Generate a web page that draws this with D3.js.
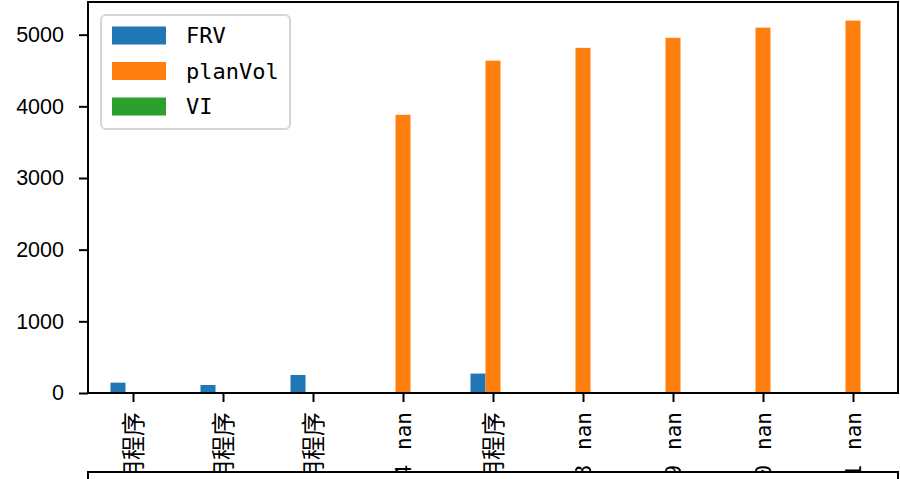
<!DOCTYPE html>
<html>
<head>
<meta charset="utf-8">
<script src="https://cdn.jsdelivr.net/npm/d3@7"></script>
<style>
  html, body { margin: 0; padding: 0; background: #fff; }
  svg { display: block; }
</style>
</head>
<body>
<svg id="chart" width="900" height="479"></svg>
<script>
// ---- data ----
const categories = ["应用程序", "应用程序", "应用程序", "2014 nan", "应用程序", "2018 nan", "2019 nan", "2020 nan", "2021 nan"];
const seriesNames = ["FRV", "planVol", "VI"];
const FRV     = [144, 112, 251, 0, 271, 0, 0, 0, 0];
const planVol = [0, 0, 0, 3882, 4637, 4816, 4956, 5098, 5196];
const VI      = [0, 0, 0, 0, 0, 0, 0, 0, 0];
const yTicks  = [0, 1000, 2000, 3000, 4000, 5000];
const colors  = ["#1f77b4", "#ff7f0e", "#2ca02c"];

const seriesValues = [FRV, planVol, VI];

// ---- layout ----
const svg = d3.select("#chart");
const plotL = 88, plotR = 898, plotT = 2, plotB = 393;

const n = categories.length;
const x = d3.scaleLinear().domain([-0.5, n - 0.5]).range([plotL, plotR]);
const maxVal = d3.max(seriesValues.flat());
const y = d3.scaleLinear().domain([0, maxVal * 1.05]).range([plotB, plotT]);

const groupWidth = 0.5;
const barW = groupWidth / seriesNames.length;

// bars
seriesValues.forEach((vals, j) => {
  const offset = -groupWidth / 2 + barW * j;
  svg.append("g").selectAll("rect")
    .data(vals.map((v, i) => ({ v, i })))
    .join("rect")
    .attr("x", d => x(d.i + offset))
    .attr("width", d => x(d.i + offset + barW) - x(d.i + offset))
    .attr("y", d => y(Math.max(d.v, 0)))
    .attr("height", d => y(0) - y(Math.max(d.v, 0)))
    .attr("fill", colors[j]);
});

// x-axis ticks & labels
const xAxis = d3.axisBottom(x)
  .tickValues(d3.range(n))
  .tickSize(9)
  .tickPadding(0)
  .tickFormat(i => categories[i]);
const gx = svg.append("g").attr("transform", `translate(0,${plotB})`).call(xAxis);
gx.select(".domain").remove();
gx.selectAll(".tick line").attr("stroke", "#000").attr("stroke-width", 2);
gx.selectAll(".tick text")
  .attr("fill", "#000")
  .attr("font-family", "'DejaVu Sans Mono', 'Noto Sans CJK SC', sans-serif")
  .attr("font-size", d => /[\u4e00-\u9fff]/.test(categories[d]) ? 24 : 21)
  .attr("text-anchor", "end")
  .attr("transform", "translate(0,19) rotate(-90)")
  .attr("x", 0)
  .attr("y", 0)
  .attr("dy", "0.36em")
  .each(function(d) {
    const label = categories[d];
    const k = label.indexOf(" ");
    if (k < 0) return;
    const t = d3.select(this).text(null);
    t.append("tspan").text(label.slice(0, k));
    t.append("tspan").attr("dx", 15).text(label.slice(k + 1));
  });

// y-axis
const yAxis = d3.axisLeft(y).tickValues(yTicks).tickSize(9).tickPadding(15).tickFormat(d3.format("d"));
const gy = svg.append("g").attr("transform", `translate(${plotL},0)`).call(yAxis);
gy.select(".domain").remove();
gy.selectAll(".tick line").attr("stroke", "#000").attr("stroke-width", 2);
gy.selectAll(".tick text")
  .attr("fill", "#000")
  .attr("font-family", "'Liberation Sans', Arial, sans-serif")
  .attr("font-size", 21.5);

// axes frame
svg.append("rect")
  .attr("x", plotL).attr("y", plotT)
  .attr("width", plotR - plotL).attr("height", plotB - plotT)
  .attr("fill", "none").attr("stroke", "#000").attr("stroke-width", 2);

// lower box (covers overflowing tick labels)
svg.append("rect")
  .attr("x", plotL).attr("y", 472)
  .attr("width", plotR - plotL).attr("height", 30)
  .attr("fill", "#fff").attr("stroke", "#000").attr("stroke-width", 2);

// legend
const lg = svg.append("g");
lg.append("rect")
  .attr("x", 101).attr("y", 15).attr("width", 189).attr("height", 114)
  .attr("rx", 5).attr("ry", 5)
  .attr("fill", "#fff").attr("fill-opacity", 0.8)
  .attr("stroke", "#d6d6d6").attr("stroke-width", 2);
const rowY = [35.5, 71, 106.5];
seriesNames.forEach((name, j) => {
  lg.append("rect")
    .attr("x", 112).attr("y", rowY[j] - 9).attr("width", 54).attr("height", 18)
    .attr("fill", colors[j]);
  lg.append("text")
    .attr("x", 186).attr("y", rowY[j]).attr("dy", "0.36em")
    .attr("font-family", "'DejaVu Sans Mono', monospace")
    .attr("font-size", 22)
    .attr("fill", "#000")
    .text(name);
});
</script>
</body>
</html>
